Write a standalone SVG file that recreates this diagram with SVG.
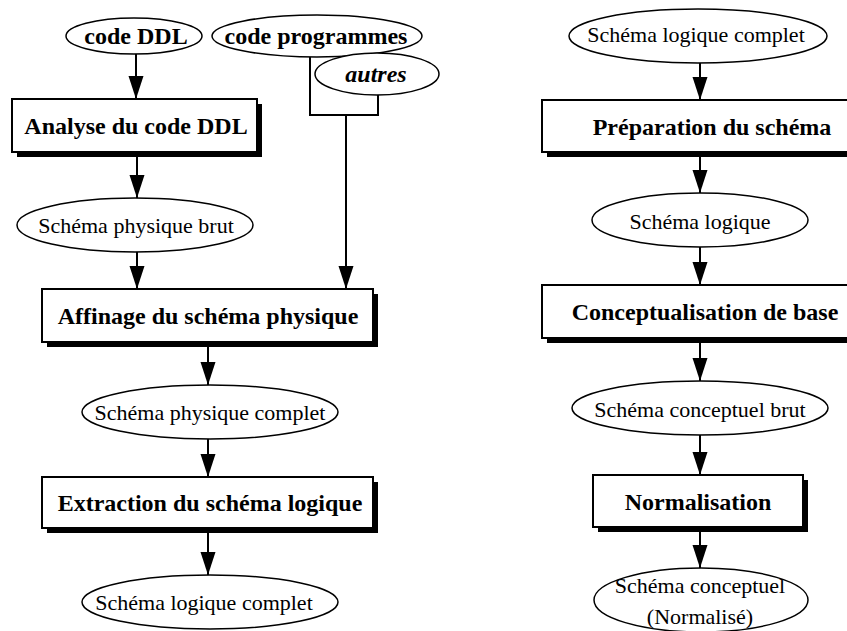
<svg xmlns="http://www.w3.org/2000/svg" width="847" height="631" viewBox="0 0 847 631">
  <style>
    .bg { fill: #ffffff; }
    .data ellipse { fill: #ffffff; stroke: #000000; stroke-width: 1.5; }
    .proc .shadow { fill: #000000; }
    .proc .frame { fill: #ffffff; stroke: #000000; stroke-width: 2; }
    .lbl { font-family: "Liberation Serif", "Times New Roman", serif; fill: #000000; text-anchor: middle; }
    .reg { font-size: 22px; }
    .bold { font-size: 24px; font-weight: bold; }
    .bi { font-size: 24px; font-weight: bold; font-style: italic; }
    .edge { fill: none; stroke: #000000; stroke-width: 2; }
  </style>
  <defs>
    <marker id="arrow" markerUnits="userSpaceOnUse" markerWidth="24" markerHeight="16" refX="23" refY="7.5" orient="auto">
      <path d="M0,0 L23,7.5 L0,15 z" fill="#000000"/>
    </marker>
  </defs>

  <rect class="bg" x="0" y="0" width="847" height="631"/>

  <!-- left chain: sources -->
  <g id="code-ddl" class="data">
    <ellipse cx="134" cy="36" rx="68" ry="18"/>
    <text class="lbl bold" x="136" y="44">code DDL</text>
  </g>
  <g id="code-programmes" class="data">
    <ellipse cx="317" cy="36" rx="105" ry="21"/>
    <text class="lbl bold" x="316" y="44">code programmes</text>
  </g>
  <g id="autres" class="data">
    <ellipse cx="377" cy="74" rx="62" ry="21"/>
    <text class="lbl bi" x="376" y="82">autres</text>
  </g>

  <!-- left chain: processes and products -->
  <g id="analyse-ddl" class="proc">
    <rect class="shadow" x="17" y="104" width="245" height="53"/>
    <rect class="frame" x="12" y="99" width="245" height="53"/>
    <text class="lbl bold" x="136" y="134">Analyse du code DDL</text>
  </g>
  <g id="schema-physique-brut" class="data">
    <ellipse cx="135" cy="225" rx="118" ry="27"/>
    <text class="lbl reg" x="136" y="233">Schéma physique brut</text>
  </g>
  <g id="affinage" class="proc">
    <rect class="shadow" x="47" y="294" width="331" height="53"/>
    <rect class="frame" x="42" y="289" width="331" height="53"/>
    <text class="lbl bold" x="208" y="324">Affinage du schéma physique</text>
  </g>
  <g id="schema-physique-complet" class="data">
    <ellipse cx="210" cy="412" rx="128" ry="27"/>
    <text class="lbl reg" x="210" y="420">Schéma physique complet</text>
  </g>
  <g id="extraction" class="proc">
    <rect class="shadow" x="47" y="482" width="331" height="51"/>
    <rect class="frame" x="42" y="477" width="331" height="51"/>
    <text class="lbl bold" x="210" y="511">Extraction du schéma logique</text>
  </g>
  <g id="schema-logique-complet-1" class="data">
    <ellipse cx="210" cy="602" rx="128" ry="27"/>
    <text class="lbl reg" x="204" y="610">Schéma logique complet</text>
  </g>

  <!-- right chain -->
  <g id="schema-logique-complet-2" class="data">
    <ellipse cx="698" cy="36" rx="129" ry="27"/>
    <text class="lbl reg" x="696" y="42">Schéma logique complet</text>
  </g>
  <g id="preparation" class="proc">
    <rect class="shadow" x="547" y="105" width="320" height="52"/>
    <rect class="frame" x="542" y="100" width="320" height="52"/>
    <text class="lbl bold" x="712" y="135">Préparation du schéma</text>
  </g>
  <g id="schema-logique" class="data">
    <ellipse cx="700" cy="220" rx="108" ry="27"/>
    <text class="lbl reg" x="700" y="229">Schéma logique</text>
  </g>
  <g id="conceptualisation" class="proc">
    <rect class="shadow" x="547" y="290" width="320" height="53"/>
    <rect class="frame" x="542" y="285" width="320" height="53"/>
    <text class="lbl bold" x="705" y="320">Conceptualisation de base</text>
  </g>
  <g id="schema-conceptuel-brut" class="data">
    <ellipse cx="700" cy="408" rx="128" ry="27"/>
    <text class="lbl reg" x="700" y="417">Schéma conceptuel brut</text>
  </g>
  <g id="normalisation" class="proc">
    <rect class="shadow" x="598" y="480" width="210" height="52"/>
    <rect class="frame" x="593" y="475" width="210" height="52"/>
    <text class="lbl bold" x="698" y="510">Normalisation</text>
  </g>
  <g id="schema-conceptuel-normalise" class="data">
    <ellipse cx="701" cy="600" rx="107" ry="32"/>
    <text class="lbl reg" x="700" y="593">Schéma conceptuel</text>
    <text class="lbl reg" x="700" y="624">(Normalisé)</text>
  </g>

  <!-- connectors -->
  <g id="connectors" class="edge">
    <path class="edge" d="M136,54 V99" marker-end="url(#arrow)"/>
    <path class="edge" d="M137,152 V198" marker-end="url(#arrow)"/>
    <path class="edge" d="M137,252 V289" marker-end="url(#arrow)"/>
    <path class="edge" d="M310,57 V115 H378 V95"/>
    <path class="edge" d="M346,115 V289" marker-end="url(#arrow)"/>
    <path class="edge" d="M208,342 V385" marker-end="url(#arrow)"/>
    <path class="edge" d="M208,439 V477" marker-end="url(#arrow)"/>
    <path class="edge" d="M208,528 V575" marker-end="url(#arrow)"/>
    <path class="edge" d="M700,63 V100" marker-end="url(#arrow)"/>
    <path class="edge" d="M700,152 V193" marker-end="url(#arrow)"/>
    <path class="edge" d="M700,247 V285" marker-end="url(#arrow)"/>
    <path class="edge" d="M700,338 V381" marker-end="url(#arrow)"/>
    <path class="edge" d="M700,435 V475" marker-end="url(#arrow)"/>
    <path class="edge" d="M700,527 V568" marker-end="url(#arrow)"/>
  </g>
</svg>
